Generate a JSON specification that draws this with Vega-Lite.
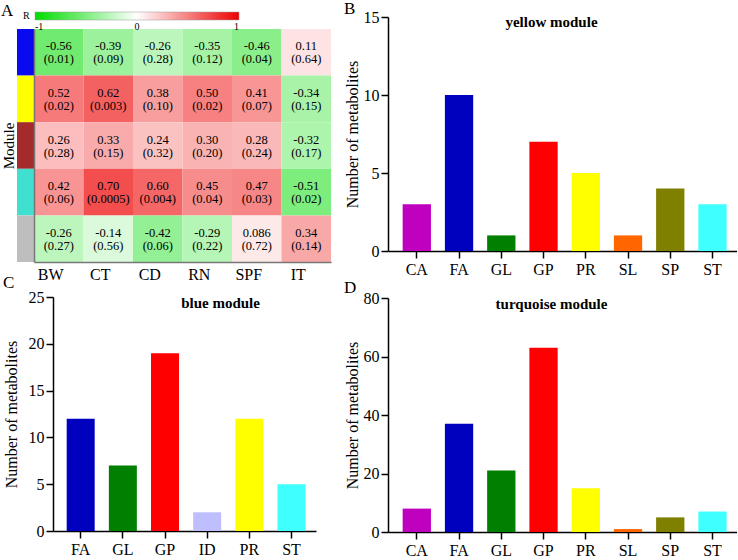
{
  "$schema": "https://vega.github.io/schema/vega-lite/v6.json",
  "padding": {"left": 1, "top": 0, "right": 0, "bottom": 0},
  "background": "white",
  "config": {
    "font": "Liberation Serif",
    "view": {"stroke": null},
    "axis": {
      "grid": false,
      "labelFont": "Liberation Serif",
      "labelFontSize": 16,
      "labelColor": "black",
      "domainColor": "black",
      "domainWidth": 1.5,
      "tickColor": "black",
      "tickWidth": 1.5,
      "tickSize": 7,
      "titleFont": "Liberation Serif",
      "titleFontSize": 16,
      "titleFontWeight": "normal",
      "titleColor": "black",
      "labelPadding": 2
    },
    "axisX": {"labelAngle": 0, "tickSize": 7, "labelPadding": 3},
    "title": {"font": "Liberation Serif", "color": "black"}
  },
  "datasets": {
    "heat": [
      {"module": "blue", "trait": "BW", "r": -0.56, "rl": "-0.56", "pl": "(0.01)"},
      {"module": "blue", "trait": "CT", "r": -0.39, "rl": "-0.39", "pl": "(0.09)"},
      {"module": "blue", "trait": "CD", "r": -0.26, "rl": "-0.26", "pl": "(0.28)"},
      {"module": "blue", "trait": "RN", "r": -0.35, "rl": "-0.35", "pl": "(0.12)"},
      {"module": "blue", "trait": "SPF", "r": -0.46, "rl": "-0.46", "pl": "(0.04)"},
      {"module": "blue", "trait": "IT", "r": 0.11, "rl": "0.11", "pl": "(0.64)"},
      {"module": "yellow", "trait": "BW", "r": 0.52, "rl": "0.52", "pl": "(0.02)"},
      {"module": "yellow", "trait": "CT", "r": 0.62, "rl": "0.62", "pl": "(0.003)"},
      {"module": "yellow", "trait": "CD", "r": 0.38, "rl": "0.38", "pl": "(0.10)"},
      {"module": "yellow", "trait": "RN", "r": 0.50, "rl": "0.50", "pl": "(0.02)"},
      {"module": "yellow", "trait": "SPF", "r": 0.41, "rl": "0.41", "pl": "(0.07)"},
      {"module": "yellow", "trait": "IT", "r": -0.34, "rl": "-0.34", "pl": "(0.15)"},
      {"module": "brown", "trait": "BW", "r": 0.26, "rl": "0.26", "pl": "(0.28)"},
      {"module": "brown", "trait": "CT", "r": 0.33, "rl": "0.33", "pl": "(0.15)"},
      {"module": "brown", "trait": "CD", "r": 0.24, "rl": "0.24", "pl": "(0.32)"},
      {"module": "brown", "trait": "RN", "r": 0.30, "rl": "0.30", "pl": "(0.20)"},
      {"module": "brown", "trait": "SPF", "r": 0.28, "rl": "0.28", "pl": "(0.24)"},
      {"module": "brown", "trait": "IT", "r": -0.32, "rl": "-0.32", "pl": "(0.17)"},
      {"module": "turquoise", "trait": "BW", "r": 0.42, "rl": "0.42", "pl": "(0.06)"},
      {"module": "turquoise", "trait": "CT", "r": 0.70, "rl": "0.70", "pl": "(0.0005)"},
      {"module": "turquoise", "trait": "CD", "r": 0.60, "rl": "0.60", "pl": "(0.004)"},
      {"module": "turquoise", "trait": "RN", "r": 0.45, "rl": "0.45", "pl": "(0.04)"},
      {"module": "turquoise", "trait": "SPF", "r": 0.47, "rl": "0.47", "pl": "(0.03)"},
      {"module": "turquoise", "trait": "IT", "r": -0.51, "rl": "-0.51", "pl": "(0.02)"},
      {"module": "grey", "trait": "BW", "r": -0.26, "rl": "-0.26", "pl": "(0.27)"},
      {"module": "grey", "trait": "CT", "r": -0.14, "rl": "-0.14", "pl": "(0.56)"},
      {"module": "grey", "trait": "CD", "r": -0.42, "rl": "-0.42", "pl": "(0.06)"},
      {"module": "grey", "trait": "RN", "r": -0.29, "rl": "-0.29", "pl": "(0.22)"},
      {"module": "grey", "trait": "SPF", "r": 0.086, "rl": "0.086", "pl": "(0.72)"},
      {"module": "grey", "trait": "IT", "r": 0.34, "rl": "0.34", "pl": "(0.14)"}
    ],
    "mods": [
      {"module": "blue"}, {"module": "yellow"}, {"module": "brown"}, {"module": "turquoise"}, {"module": "grey"}
    ],
    "yellow": [
      {"cls": "CA", "n": 3}, {"cls": "FA", "n": 10}, {"cls": "GL", "n": 1}, {"cls": "GP", "n": 7},
      {"cls": "PR", "n": 5}, {"cls": "SL", "n": 1}, {"cls": "SP", "n": 4}, {"cls": "ST", "n": 3}
    ],
    "blue": [
      {"cls": "FA", "n": 12}, {"cls": "GL", "n": 7}, {"cls": "GP", "n": 19},
      {"cls": "ID", "n": 2}, {"cls": "PR", "n": 12}, {"cls": "ST", "n": 5}
    ],
    "turquoise": [
      {"cls": "CA", "n": 8}, {"cls": "FA", "n": 37}, {"cls": "GL", "n": 21}, {"cls": "GP", "n": 63},
      {"cls": "PR", "n": 15}, {"cls": "SL", "n": 1}, {"cls": "SP", "n": 5}, {"cls": "ST", "n": 7}
    ]
  },
  "resolve": {"scale": {"color": "independent", "x": "independent", "y": "independent"}},
  "spacing": -6,
  "hconcat": [
    {
      "resolve": {"scale": {"color": "independent", "x": "independent", "y": "independent"}},
      "spacing": -8,
      "vconcat": [
        {
          "title": {"text": "A", "anchor": "start", "frame": "bounds", "fontSize": 17, "fontWeight": "normal", "offset": -8},
          "width": 278,
          "height": 245,
          "encoding": {
            "y": {
              "field": "module", "type": "nominal",
              "scale": {"domain": ["blue", "yellow", "brown", "turquoise", "grey"], "range": [12, 245], "paddingInner": 0, "paddingOuter": 0},
              "axis": {
                "title": "Module", "titleFontSize": 15, "titlePadding": 18,
                "labels": false, "ticks": false,
                "domain": true, "domainColor": "#777777", "domainWidth": 1.5, "offset": 19
              }
            }
          },
          "resolve": {"scale": {"x": "independent", "color": "independent"}, "axis": {"x": "independent"}},
          "layer": [
            {
              "data": {"name": "mods"},
              "mark": {"type": "rect"},
              "encoding": {
                "x": {"datum": "bar", "type": "nominal", "scale": {"domain": ["bar"], "range": [-36, -19], "paddingInner": 0, "paddingOuter": 0}, "axis": null},
                "color": {"field": "module", "type": "nominal", "legend": null,
                  "scale": {"domain": ["blue", "yellow", "brown", "turquoise", "grey"], "range": ["#0a0af0", "#ffff00", "#a52a2a", "#40e0d0", "#bebebe"]}}
              }
            },
            {
              "data": {"name": "heat"},
              "encoding": {
                "x": {
                  "field": "trait", "type": "nominal",
                  "scale": {"domain": ["BW", "CT", "CD", "RN", "SPF", "IT"], "range": [-19, 278], "paddingInner": 0, "paddingOuter": 0},
                  "axis": {"title": null, "ticks": false, "domain": true, "domainColor": "#777777", "domainWidth": 1.5, "labelPadding": 4, "labelOffset": -8}
                }
              },
              "layer": [
                {
                  "mark": {"type": "rect"},
                  "encoding": {
                    "color": {
                      "field": "r", "type": "quantitative",
                      "scale": {"domain": [-1, 0, 1], "range": ["#00dc00", "#ffffff", "#ee0000"], "interpolate": "rgb"},
                      "legend": {
                        "orient": "none", "legendX": -30, "legendY": -5, "direction": "horizontal",
                        "title": "R", "titleOrient": "left", "titleFontSize": 10, "titleFontWeight": "normal", "titlePadding": 5,
                        "gradientLength": 204, "gradientThickness": 8, "values": [-1, 0, 1],
                        "labelExpr": "'' + datum.value",
                        "labelFontSize": 10, "labelColor": "black", "labelOffset": 2,
                        "gradientStrokeColor": "#999999", "gradientStrokeWidth": 0.5
                      }
                    }
                  }
                },
                {"mark": {"type": "text", "dy": -6, "fontSize": 12.5, "color": "black"}, "encoding": {"text": {"field": "rl", "type": "nominal"}}},
                {"mark": {"type": "text", "dy": 7, "fontSize": 12.5, "color": "black"}, "encoding": {"text": {"field": "pl", "type": "nominal"}}}
              ]
            }
          ]
        },
        {
          "title": {"text": "C", "anchor": "start", "frame": "bounds", "fontSize": 17, "fontWeight": "normal", "offset": -3},
          "vconcat": [
            {
              "title": {"text": "blue module", "fontSize": 15, "fontWeight": "bold", "anchor": "middle", "dx": 36, "offset": -22},
              "width": 263,
              "height": 234,
              "data": {"name": "blue"},
              "mark": {"type": "bar"},
              "encoding": {
                "x": {"field": "cls", "type": "nominal", "sort": null, "scale": {"paddingInner": 0.336, "paddingOuter": 0.287, "align": 0.566}, "axis": {"title": null}},
                "y": {"field": "n", "type": "quantitative", "scale": {"domain": [0, 25], "nice": false}, "axis": {"values": [0, 5, 10, 15, 20, 25], "title": "Number of metabolites", "titlePadding": 9}},
                "color": {"field": "cls", "type": "nominal", "legend": null,
                  "scale": {"domain": ["CA", "FA", "GL", "GP", "ID", "PR", "SL", "SP", "ST"], "range": ["#bf00bf", "#0000bf", "#007f00", "#ff0000", "#bfbfff", "#ffff00", "#ff6600", "#7f7f00", "#40ffff"]}}
              }
            }
          ]
        }
      ]
    },
    {
      "resolve": {"scale": {"color": "independent", "x": "independent", "y": "independent"}},
      "spacing": 2,
      "vconcat": [
        {
          "title": {"text": "B", "anchor": "start", "frame": "bounds", "fontSize": 17, "fontWeight": "normal", "offset": -9},
          "vconcat": [
            {
              "title": {"text": "yellow module", "fontSize": 15, "fontWeight": "bold", "anchor": "middle", "dx": -11, "offset": -21},
              "width": 349,
              "height": 234,
              "data": {"name": "yellow"},
              "mark": {"type": "bar"},
              "encoding": {
                "x": {"field": "cls", "type": "nominal", "sort": null, "scale": {"paddingInner": 0.33, "paddingOuter": 0.296, "align": 0.586}, "axis": {"title": null}},
                "y": {"field": "n", "type": "quantitative", "scale": {"domain": [0, 15], "nice": false}, "axis": {"values": [0, 5, 10, 15], "title": "Number of metabolites", "titlePadding": 3}},
                "color": {"field": "cls", "type": "nominal", "legend": null,
                  "scale": {"domain": ["CA", "FA", "GL", "GP", "ID", "PR", "SL", "SP", "ST"], "range": ["#bf00bf", "#0000bf", "#007f00", "#ff0000", "#bfbfff", "#ffff00", "#ff6600", "#7f7f00", "#40ffff"]}}
              }
            }
          ]
        },
        {
          "title": {"text": "D", "anchor": "start", "frame": "bounds", "fontSize": 17, "fontWeight": "normal", "offset": -7},
          "vconcat": [
            {
              "title": {"text": "turquoise module", "fontSize": 15, "fontWeight": "bold", "anchor": "middle", "dx": -11, "offset": -22},
              "width": 349,
              "height": 234,
              "data": {"name": "turquoise"},
              "mark": {"type": "bar"},
              "encoding": {
                "x": {"field": "cls", "type": "nominal", "sort": null, "scale": {"paddingInner": 0.33, "paddingOuter": 0.296, "align": 0.586}, "axis": {"title": null}},
                "y": {"field": "n", "type": "quantitative", "scale": {"domain": [0, 80], "nice": false}, "axis": {"values": [0, 20, 40, 60, 80], "title": "Number of metabolites", "titlePadding": 3}},
                "color": {"field": "cls", "type": "nominal", "legend": null,
                  "scale": {"domain": ["CA", "FA", "GL", "GP", "ID", "PR", "SL", "SP", "ST"], "range": ["#bf00bf", "#0000bf", "#007f00", "#ff0000", "#bfbfff", "#ffff00", "#ff6600", "#7f7f00", "#40ffff"]}}
              }
            }
          ]
        }
      ]
    }
  ]
}
